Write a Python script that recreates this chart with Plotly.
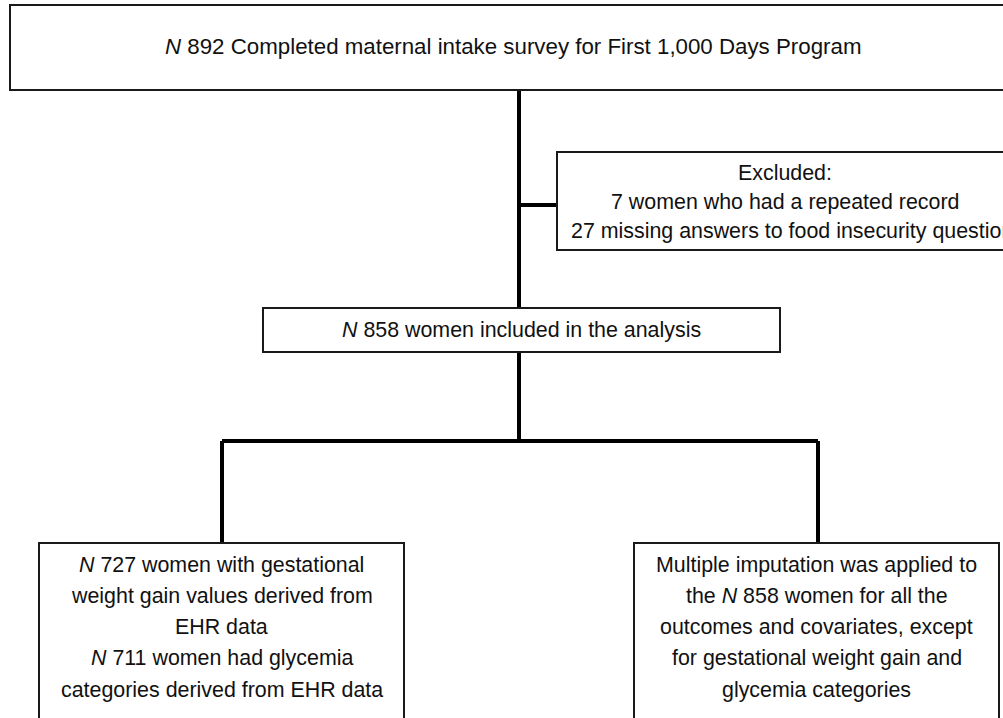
import plotly.graph_objects as go

# ---- data (counts in the flow chart) ----
total_surveyed = 892
repeated_records = 7
missing_food_insecurity = 27
included = 858
with_gwg = 727
with_glycemia = 711

top_lines = [f"<i>N</i> {total_surveyed} Completed maternal intake survey for First 1,000 Days Program"]
excluded_lines = [
    "Excluded:",
    f"{repeated_records} women who had a repeated record",
    f"{missing_food_insecurity} missing answers to food insecurity questions",
]
middle_lines = [f"<i>N</i> {included} women included in the analysis"]
left_lines = [
    f"<i>N</i> {with_gwg} women with gestational",
    "weight gain values derived from",
    "EHR data",
    f"<i>N</i> {with_glycemia} women had glycemia",
    "categories derived from EHR data",
]
right_lines = [
    "Multiple imputation was applied to",
    f"the <i>N</i> {included} women for all the",
    "outcomes and covariates, except",
    "for gestational weight gain and",
    "glycemia categories",
]

# ---- layout geometry (pixel-like axis units) ----
W, H = 1003, 718
boxes = {
    "top":      dict(x0=10, x1=1016, y0=5, y1=90, lines=top_lines, ys=[46], dx=[0], size=22.3),
    "excluded": dict(x0=557, x1=1013, y0=152, y1=250, lines=excluded_lines,
                     ys=[173, 202, 231], dx=[0, 0, 12], size=21.4),
    "middle":   dict(x0=263, x1=780, y0=308, y1=352, lines=middle_lines, ys=[330], dx=[0], size=21.4),
    "left":     dict(x0=39, x1=404, y0=543, y1=740, lines=left_lines,
                     ys=[565, 596, 627, 658, 690], dx=[0] * 5, size=21.4),
    "right":    dict(x0=634, x1=999, y0=543, y1=740, lines=right_lines,
                     ys=[565, 596, 627, 658, 690], dx=[0] * 5, size=21.4),
}
connectors = [
    (519, 90, 519, 308),
    (519, 205, 557, 205),
    (519, 352, 519, 441),
    (222, 441, 818, 441),
    (222, 441, 222, 543),
    (818, 441, 818, 543),
]

fig = go.Figure()
fig.add_trace(go.Scatter(x=[0, W], y=[0, H], mode="markers",
                         marker=dict(opacity=0), hoverinfo="skip", showlegend=False))

shapes = []
annotations = []
for b in boxes.values():
    font = dict(family="Arial, Liberation Sans, sans-serif", size=b["size"], color="#111111")
    shapes.append(dict(type="rect", xref="x", yref="y", x0=b["x0"], x1=b["x1"],
                       y0=b["y0"], y1=b["y1"], line=dict(color="#1a1a1a", width=2),
                       fillcolor="white", layer="above"))
    cx = (b["x0"] + b["x1"]) / 2
    for txt, y, dx in zip(b["lines"], b["ys"], b["dx"]):
        annotations.append(dict(x=cx + dx, y=y, xref="x", yref="y", text=txt,
                                showarrow=False, font=font,
                                xanchor="center", yanchor="middle"))
for (x0, y0, x1, y1) in connectors:
    shapes.append(dict(type="line", xref="x", yref="y", x0=x0, y0=y0, x1=x1, y1=y1,
                       line=dict(color="black", width=4), layer="below"))

fig.update_layout(
    width=W, height=H,
    margin=dict(l=0, r=0, t=0, b=0),
    paper_bgcolor="white", plot_bgcolor="white",
    xaxis=dict(range=[0, W], visible=False, fixedrange=True),
    yaxis=dict(range=[H, 0], visible=False, fixedrange=True),
    shapes=shapes, annotations=annotations,
    showlegend=False,
)
fig.write_html("out.html", config={"displayModeBar": False},
               post_script="document.body.style.margin='0px';document.body.style.overflow='hidden';")
